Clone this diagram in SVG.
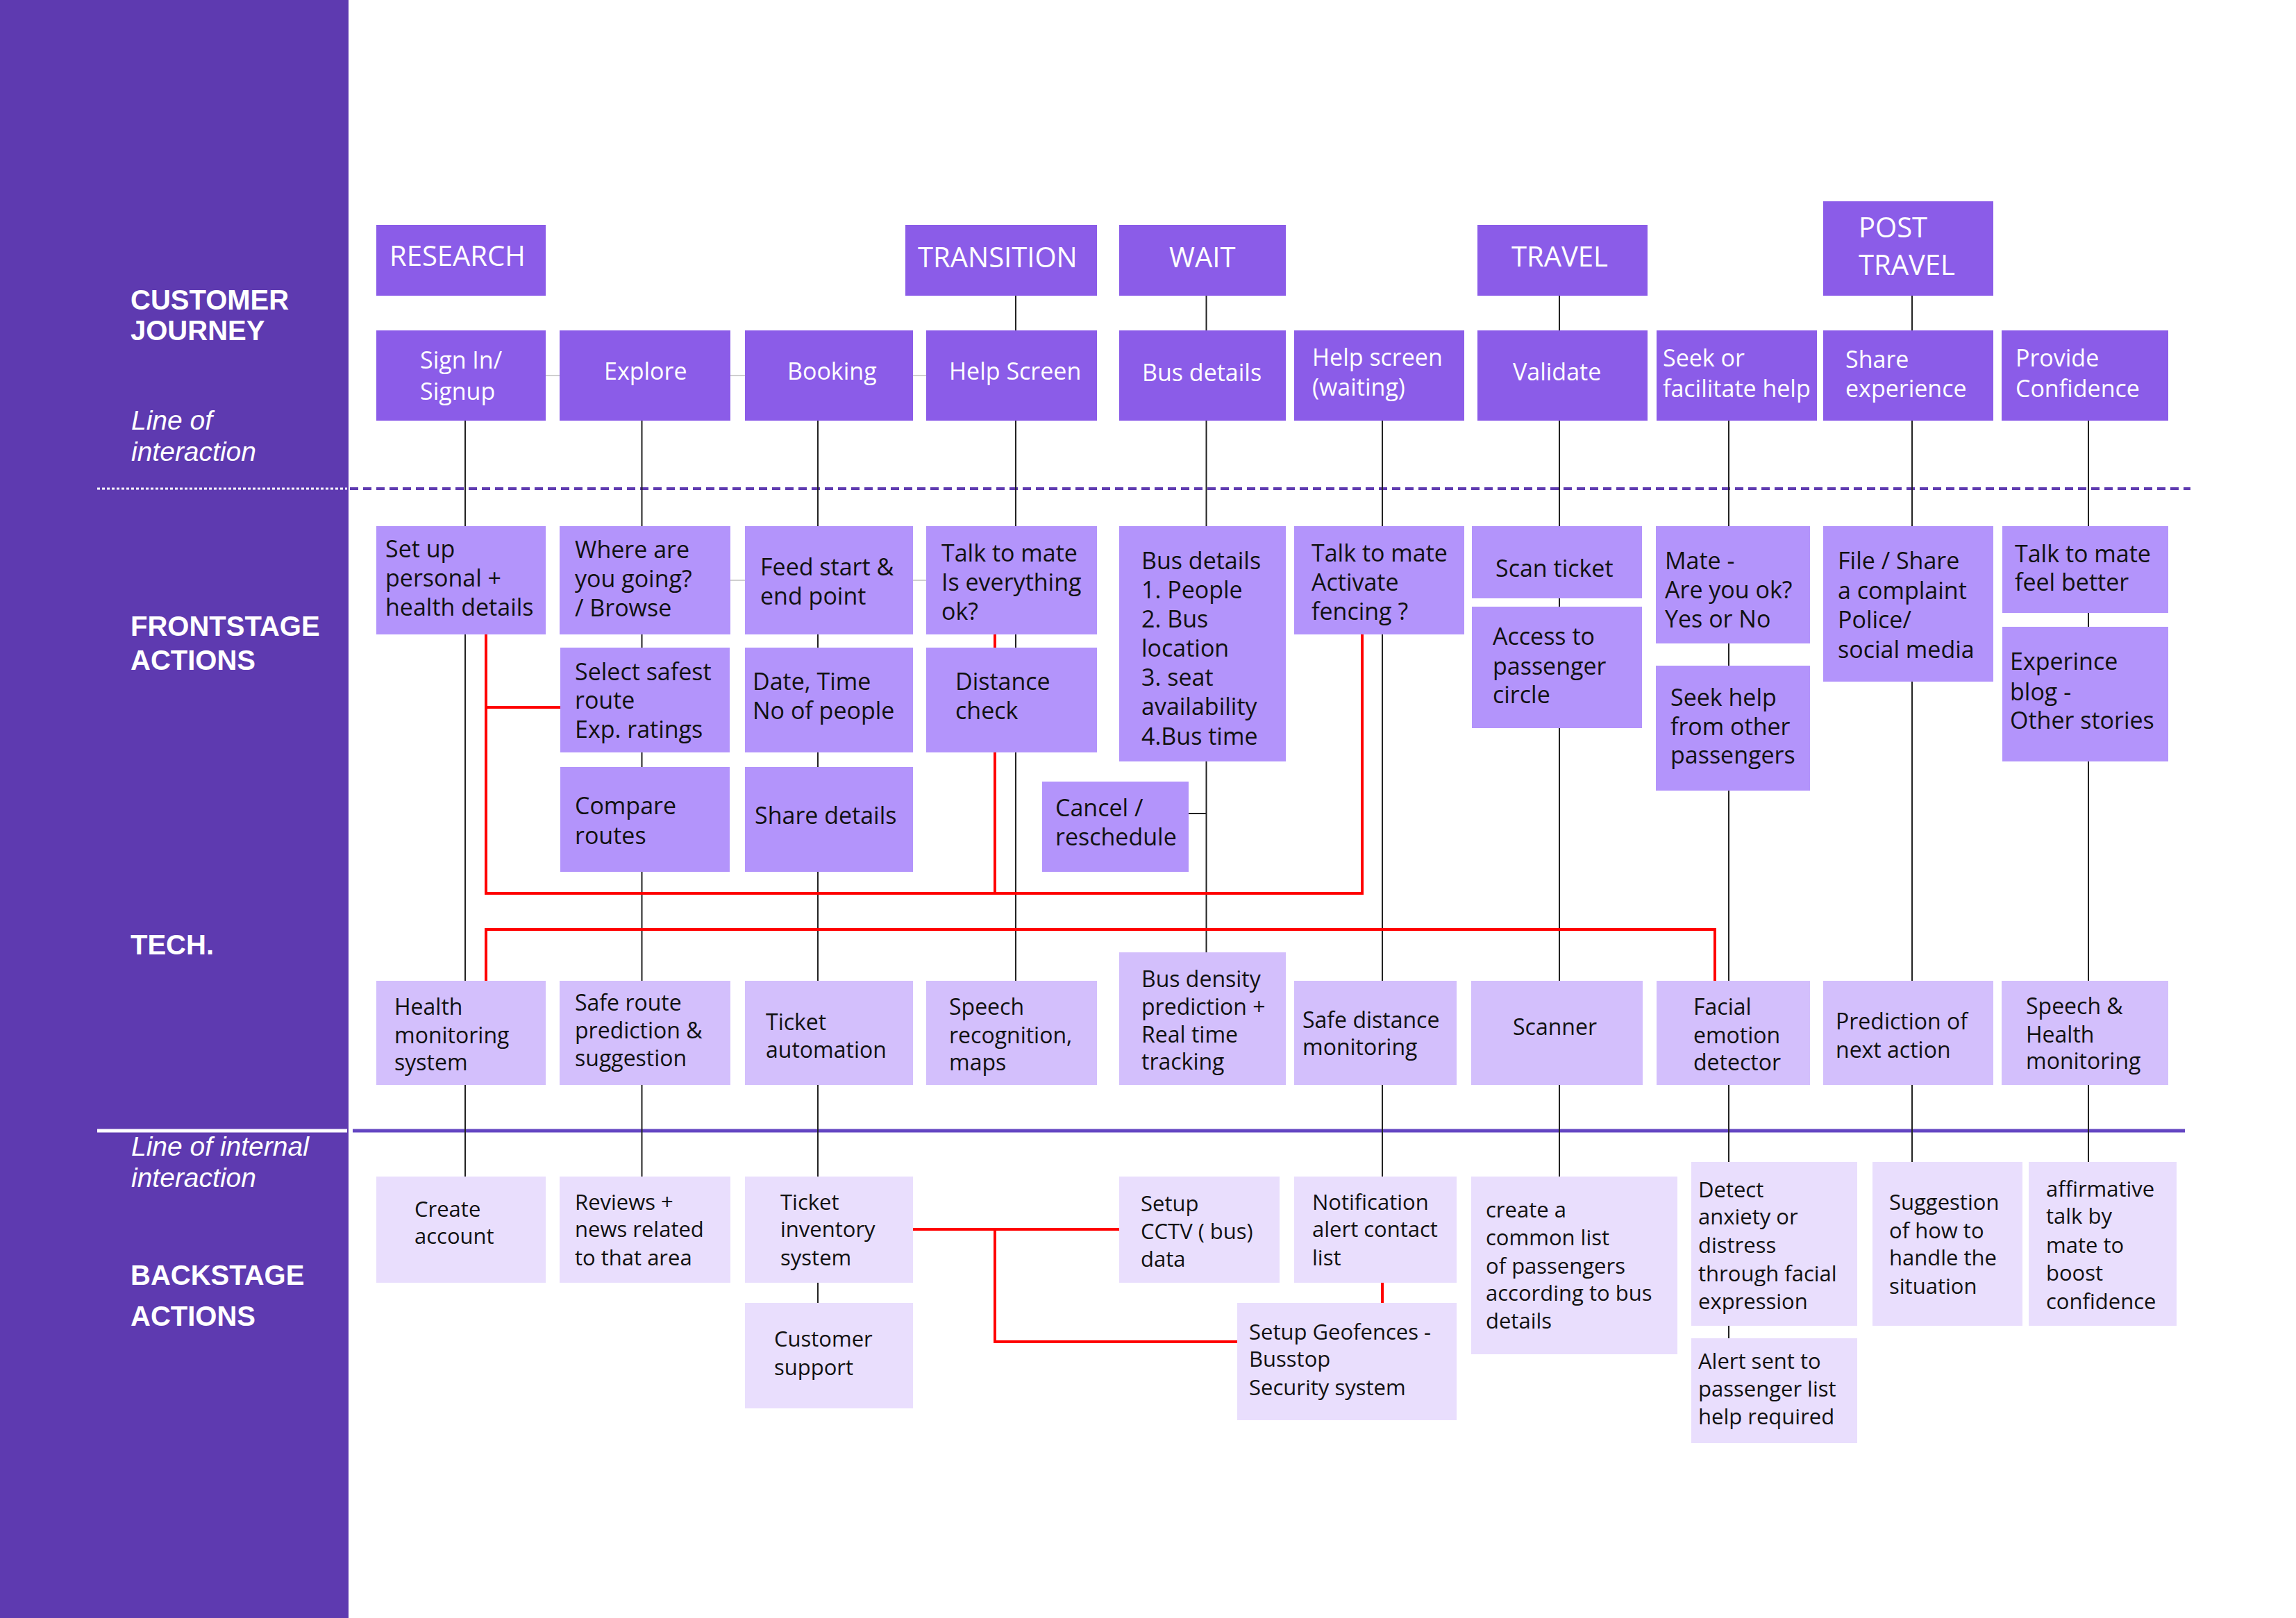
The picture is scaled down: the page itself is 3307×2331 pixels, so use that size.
<svg xmlns="http://www.w3.org/2000/svg" width="3307" height="2331" viewBox="0 0 3307 2331">
<style>
.side{fill:#5E3AB0}
.ph,.js{fill:#8B5CE8}
.fs{fill:#B394FB}
.te{fill:#D3BFFC}
.bs{fill:#E9DEFD}
text{font-family:"Open Sans","Liberation Sans",sans-serif}
.th{fill:#fff;font-size:40px}
.tw{fill:#fff;font-size:34px}
.tb{fill:#111;font-size:34px}
.tt{fill:#111;font-size:32px}
.tk{fill:#111;font-size:31px}
.lab{fill:#fff;font-family:"Liberation Sans",Arial,sans-serif;font-weight:bold;font-size:40px}
.it{fill:#fff;font-family:"Liberation Sans",Arial,sans-serif;font-style:italic;font-size:39px}
.blk{stroke:#222;stroke-width:2;fill:none}
.gry{stroke:#cfcfcf;stroke-width:2;fill:none}
.red{stroke:#FF0000;stroke-width:4;fill:none}
</style>
<rect width="3307" height="2331" fill="#fff"/>
<g id="sidebar">
<rect class="side" x="0" y="0" width="502" height="2331"/>
<text class="lab" x="188" y="446">CUSTOMER</text>
<text class="lab" x="188" y="490">JOURNEY</text>
<text class="it" x="189" y="619">Line of</text>
<text class="it" x="189" y="664">interaction</text>
<text class="lab" x="188" y="916">FRONTSTAGE</text>
<text class="lab" x="188" y="965">ACTIONS</text>
<text class="lab" x="188" y="1375">TECH.</text>
<text class="it" x="189" y="1665">Line of internal</text>
<text class="it" x="189" y="1710">interaction</text>
<text class="lab" x="188" y="1851">BACKSTAGE</text>
<text class="lab" x="188" y="1910">ACTIONS</text>
</g>
<g id="dividers">
<line x1="140" y1="704" x2="500" y2="704" stroke="#fff" stroke-width="3" stroke-dasharray="4 3"/>
<line x1="504" y1="704" x2="3155" y2="704" stroke="#5E3AB0" stroke-width="4" stroke-dasharray="12 7"/>
<line x1="140" y1="1629" x2="500" y2="1629" stroke="#fff" stroke-width="5"/>
<line x1="508" y1="1629" x2="3147" y2="1629" stroke="#6446C2" stroke-width="5"/>
</g>
<g id="connectors">
<line class="gry" x1="786" y1="541" x2="806" y2="541"/>
<line class="gry" x1="1052" y1="541" x2="1073" y2="541"/>
<line class="gry" x1="1315" y1="541" x2="1334" y2="541"/>
<line class="gry" x1="1052" y1="836" x2="1073" y2="836"/>
<line class="gry" x1="1315" y1="836" x2="1334" y2="836"/>
<line class="blk" x1="670" y1="606" x2="670" y2="1695"/>
<line class="blk" x1="924.5" y1="606" x2="924.5" y2="1695"/>
<line class="blk" x1="1178" y1="606" x2="1178" y2="1877"/>
<line class="blk" x1="1463" y1="426" x2="1463" y2="1413"/>
<line class="blk" x1="1737.5" y1="426" x2="1737.5" y2="1372"/>
<line class="blk" x1="1712" y1="1172" x2="1737.5" y2="1172"/>
<line class="blk" x1="1991" y1="606" x2="1991" y2="1695"/>
<line class="blk" x1="2246" y1="426" x2="2246" y2="1695"/>
<line class="blk" x1="2490" y1="606" x2="2490" y2="1928"/>
<line class="blk" x1="2754" y1="426" x2="2754" y2="1674"/>
<line class="blk" x1="3008" y1="606" x2="3008" y2="1674"/>
<polyline class="red" points="700,914 700,1287 1962,1287 1962,908"/>
<line class="red" x1="700" y1="1019" x2="807" y2="1019"/>
<line class="red" x1="1433" y1="914" x2="1433" y2="1287"/>
<polyline class="red" points="700,1413 700,1339 2470,1339 2470,1413"/>
<line class="red" x1="1315" y1="1771" x2="1612" y2="1771"/>
<polyline class="red" points="1433,1771 1433,1933 1782,1933"/>
<line class="red" x1="1991" y1="1848" x2="1991" y2="1877"/>
</g>
<g id="phases">
<g id="n-research"><rect class="ph" x="542" y="324" width="244" height="102"/><text class="th" x="561" y="383">RESEARCH</text></g>
<g id="n-transition"><rect class="ph" x="1304" y="324" width="276" height="102"/><text class="th" x="1322" y="385">TRANSITION</text></g>
<g id="n-wait"><rect class="ph" x="1612" y="324" width="240" height="102"/><text class="th" x="1684" y="385">WAIT</text></g>
<g id="n-travel"><rect class="ph" x="2128" y="324" width="245" height="102"/><text class="th" x="2177" y="384">TRAVEL</text></g>
<g id="n-posttravel"><rect class="ph" x="2626" y="290" width="245" height="136"/><text class="th"><tspan x="2677" y="342">POST</tspan><tspan x="2677" y="396">TRAVEL</tspan></text></g>
</g>
<g id="journey">
<g id="n-signin"><rect class="js" x="542" y="476" width="244" height="130"/><text class="tw"><tspan x="605" y="531">Sign In/</tspan><tspan x="605" y="576">Signup</tspan></text></g>
<g id="n-explore"><rect class="js" x="806" y="476" width="246" height="130"/><text class="tw" x="870" y="547">Explore</text></g>
<g id="n-booking"><rect class="js" x="1073" y="476" width="242" height="130"/><text class="tw" x="1134" y="547">Booking</text></g>
<g id="n-helpscreen"><rect class="js" x="1334" y="476" width="246" height="130"/><text class="tw" x="1367" y="547">Help Screen</text></g>
<g id="n-busdetails"><rect class="js" x="1612" y="476" width="240" height="130"/><text class="tw" x="1645" y="549">Bus details</text></g>
<g id="n-helpwait"><rect class="js" x="1864" y="476" width="245" height="130"/><text class="tw"><tspan x="1890" y="527">Help screen</tspan><tspan x="1890" y="570">(waiting)</tspan></text></g>
<g id="n-validate"><rect class="js" x="2128" y="476" width="245" height="130"/><text class="tw" x="2179" y="548">Validate</text></g>
<g id="n-seek"><rect class="js" x="2386" y="476" width="231" height="130"/><text class="tw"><tspan x="2395" y="528">Seek or</tspan><tspan x="2395" y="572">facilitate help</tspan></text></g>
<g id="n-share"><rect class="js" x="2626" y="476" width="245" height="130"/><text class="tw"><tspan x="2658" y="530">Share</tspan><tspan x="2658" y="572">experience</tspan></text></g>
<g id="n-provide"><rect class="js" x="2883" y="476" width="240" height="130"/><text class="tw"><tspan x="2903" y="528">Provide</tspan><tspan x="2903" y="572">Confidence</tspan></text></g>
</g>
<g id="frontstage">
<g id="n-setup"><rect class="fs" x="542" y="758" width="244" height="156"/><text class="tb"><tspan x="555" y="803">Set up</tspan><tspan x="555" y="845">personal +</tspan><tspan x="555" y="887">health details</tspan></text></g>
<g id="n-where"><rect class="fs" x="806" y="758" width="246" height="156"/><text class="tb"><tspan x="828" y="804">Where are</tspan><tspan x="828" y="846">you going?</tspan><tspan x="828" y="888">/ Browse</tspan></text></g>
<g id="n-feed"><rect class="fs" x="1073" y="758" width="242" height="156"/><text class="tb"><tspan x="1095" y="829">Feed start &amp;</tspan><tspan x="1095" y="871">end point</tspan></text></g>
<g id="n-talk1"><rect class="fs" x="1334" y="758" width="246" height="156"/><text class="tb"><tspan x="1356" y="809">Talk to mate</tspan><tspan x="1356" y="851">Is everything</tspan><tspan x="1356" y="893">ok?</tspan></text></g>
<g id="n-buslist"><rect class="fs" x="1612" y="758" width="240" height="339"/><text class="tb"><tspan x="1644" y="820">Bus details</tspan><tspan x="1644" y="862">1. People</tspan><tspan x="1644" y="904">2. Bus</tspan><tspan x="1644" y="946">location</tspan><tspan x="1644" y="988">3. seat</tspan><tspan x="1644" y="1030">availability</tspan><tspan x="1644" y="1073">4.Bus time</tspan></text></g>
<g id="n-talk2"><rect class="fs" x="1864" y="758" width="245" height="156"/><text class="tb"><tspan x="1889" y="809">Talk to mate</tspan><tspan x="1889" y="851">Activate</tspan><tspan x="1889" y="893">fencing ?</tspan></text></g>
<g id="n-scan"><rect class="fs" x="2120" y="758" width="245" height="104"/><text class="tb" x="2154" y="831">Scan ticket</text></g>
<g id="n-access"><rect class="fs" x="2120" y="874" width="245" height="175"/><text class="tb"><tspan x="2150" y="929">Access to</tspan><tspan x="2150" y="972">passenger</tspan><tspan x="2150" y="1013">circle</tspan></text></g>
<g id="n-mate"><rect class="fs" x="2385" y="758" width="222" height="169"/><text class="tb"><tspan x="2398" y="820">Mate -</tspan><tspan x="2398" y="862">Are you ok?</tspan><tspan x="2398" y="904">Yes or No</tspan></text></g>
<g id="n-seekhelp"><rect class="fs" x="2385" y="959" width="222" height="180"/><text class="tb"><tspan x="2406" y="1017">Seek help</tspan><tspan x="2406" y="1059">from other</tspan><tspan x="2406" y="1100">passengers</tspan></text></g>
<g id="n-file"><rect class="fs" x="2626" y="758" width="245" height="224"/><text class="tb"><tspan x="2647" y="820">File / Share</tspan><tspan x="2647" y="863">a complaint</tspan><tspan x="2647" y="905">Police/</tspan><tspan x="2647" y="948">social media</tspan></text></g>
<g id="n-talk3"><rect class="fs" x="2884" y="758" width="239" height="125"/><text class="tb"><tspan x="2902" y="810">Talk to mate</tspan><tspan x="2902" y="851">feel better</tspan></text></g>
<g id="n-blog"><rect class="fs" x="2884" y="903" width="239" height="194"/><text class="tb"><tspan x="2895" y="965">Experince</tspan><tspan x="2895" y="1009">blog -</tspan><tspan x="2895" y="1050">Other stories</tspan></text></g>
<g id="n-select"><rect class="fs" x="807" y="933" width="244" height="151"/><text class="tb"><tspan x="828" y="980">Select safest</tspan><tspan x="828" y="1021">route</tspan><tspan x="828" y="1063">Exp. ratings</tspan></text></g>
<g id="n-compare"><rect class="fs" x="807" y="1105" width="244" height="151"/><text class="tb"><tspan x="828" y="1173">Compare</tspan><tspan x="828" y="1216">routes</tspan></text></g>
<g id="n-date"><rect class="fs" x="1073" y="933" width="242" height="151"/><text class="tb"><tspan x="1084" y="994">Date, Time</tspan><tspan x="1084" y="1036">No of people</tspan></text></g>
<g id="n-sharedet"><rect class="fs" x="1073" y="1105" width="242" height="151"/><text class="tb" x="1087" y="1187">Share details</text></g>
<g id="n-distance"><rect class="fs" x="1334" y="933" width="246" height="151"/><text class="tb"><tspan x="1376" y="994">Distance</tspan><tspan x="1376" y="1036">check</tspan></text></g>
<g id="n-cancel"><rect class="fs" x="1501" y="1126" width="211" height="130"/><text class="tb"><tspan x="1520" y="1176">Cancel /</tspan><tspan x="1520" y="1218">reschedule</tspan></text></g>
</g>
<g id="tech">
<g id="n-health"><rect class="te" x="542" y="1413" width="244" height="150"/><text class="tt"><tspan x="568" y="1462">Health</tspan><tspan x="568" y="1503">monitoring</tspan><tspan x="568" y="1542">system</tspan></text></g>
<g id="n-saferoute"><rect class="te" x="806" y="1413" width="246" height="150"/><text class="tt"><tspan x="828" y="1456">Safe route</tspan><tspan x="828" y="1496">prediction &amp;</tspan><tspan x="828" y="1536">suggestion</tspan></text></g>
<g id="n-ticketauto"><rect class="te" x="1073" y="1413" width="242" height="150"/><text class="tt"><tspan x="1103" y="1484">Ticket</tspan><tspan x="1103" y="1524">automation</tspan></text></g>
<g id="n-speech"><rect class="te" x="1334" y="1413" width="246" height="150"/><text class="tt"><tspan x="1367" y="1462">Speech</tspan><tspan x="1367" y="1503">recognition,</tspan><tspan x="1367" y="1542">maps</tspan></text></g>
<g id="n-busdensity"><rect class="te" x="1612" y="1372" width="240" height="191"/><text class="tt"><tspan x="1644" y="1422">Bus density</tspan><tspan x="1644" y="1462">prediction +</tspan><tspan x="1644" y="1502">Real time</tspan><tspan x="1644" y="1541">tracking</tspan></text></g>
<g id="n-safedist"><rect class="te" x="1864" y="1413" width="234" height="150"/><text class="tt"><tspan x="1876" y="1481">Safe distance</tspan><tspan x="1876" y="1520">monitoring</tspan></text></g>
<g id="n-scanner"><rect class="te" x="2119" y="1413" width="247" height="150"/><text class="tt" x="2179" y="1491">Scanner</text></g>
<g id="n-facial"><rect class="te" x="2386" y="1413" width="221" height="150"/><text class="tt"><tspan x="2439" y="1462">Facial</tspan><tspan x="2439" y="1503">emotion</tspan><tspan x="2439" y="1542">detector</tspan></text></g>
<g id="n-prediction"><rect class="te" x="2626" y="1413" width="245" height="150"/><text class="tt"><tspan x="2644" y="1483">Prediction of</tspan><tspan x="2644" y="1524">next action</tspan></text></g>
<g id="n-speechhealth"><rect class="te" x="2883" y="1413" width="240" height="150"/><text class="tt"><tspan x="2918" y="1461">Speech &amp;</tspan><tspan x="2918" y="1502">Health</tspan><tspan x="2918" y="1540">monitoring</tspan></text></g>
</g>
<g id="backstage">
<g id="n-create"><rect class="bs" x="542" y="1695" width="244" height="153"/><text class="tk"><tspan x="597" y="1753">Create</tspan><tspan x="597" y="1792">account</tspan></text></g>
<g id="n-reviews"><rect class="bs" x="806" y="1695" width="246" height="153"/><text class="tk"><tspan x="828" y="1743">Reviews +</tspan><tspan x="828" y="1782">news related</tspan><tspan x="828" y="1823">to that area</tspan></text></g>
<g id="n-inventory"><rect class="bs" x="1073" y="1695" width="242" height="153"/><text class="tk"><tspan x="1124" y="1743">Ticket</tspan><tspan x="1124" y="1782">inventory</tspan><tspan x="1124" y="1823">system</tspan></text></g>
<g id="n-support"><rect class="bs" x="1073" y="1877" width="242" height="152"/><text class="tk"><tspan x="1115" y="1940">Customer</tspan><tspan x="1115" y="1981">support</tspan></text></g>
<g id="n-cctv"><rect class="bs" x="1612" y="1695" width="231" height="153"/><text class="tk"><tspan x="1643" y="1745">Setup</tspan><tspan x="1643" y="1785">CCTV ( bus)</tspan><tspan x="1643" y="1825">data</tspan></text></g>
<g id="n-notif"><rect class="bs" x="1864" y="1695" width="234" height="153"/><text class="tk"><tspan x="1890" y="1743">Notification</tspan><tspan x="1890" y="1782">alert contact</tspan><tspan x="1890" y="1823">list</tspan></text></g>
<g id="n-geofence"><rect class="bs" x="1782" y="1877" width="316" height="169"/><text class="tk"><tspan x="1799" y="1930">Setup Geofences -</tspan><tspan x="1799" y="1969">Busstop</tspan><tspan x="1799" y="2010">Security system</tspan></text></g>
<g id="n-commonlist"><rect class="bs" x="2119" y="1695" width="297" height="256"/><text class="tk"><tspan x="2140" y="1754">create a</tspan><tspan x="2140" y="1794">common list</tspan><tspan x="2140" y="1835">of passengers</tspan><tspan x="2140" y="1874">according to bus</tspan><tspan x="2140" y="1914">details</tspan></text></g>
<g id="n-detect"><rect class="bs" x="2436" y="1674" width="239" height="236"/><text class="tk"><tspan x="2446" y="1725">Detect</tspan><tspan x="2446" y="1764">anxiety or</tspan><tspan x="2446" y="1805">distress</tspan><tspan x="2446" y="1846">through facial</tspan><tspan x="2446" y="1886">expression</tspan></text></g>
<g id="n-alert"><rect class="bs" x="2436" y="1928" width="239" height="151"/><text class="tk"><tspan x="2446" y="1972">Alert sent to</tspan><tspan x="2446" y="2012">passenger list</tspan><tspan x="2446" y="2052">help required</tspan></text></g>
<g id="n-suggestion"><rect class="bs" x="2697" y="1674" width="216" height="236"/><text class="tk"><tspan x="2721" y="1743">Suggestion</tspan><tspan x="2721" y="1784">of how to</tspan><tspan x="2721" y="1823">handle the</tspan><tspan x="2721" y="1864">situation</tspan></text></g>
<g id="n-affirm"><rect class="bs" x="2922" y="1674" width="213" height="236"/><text class="tk"><tspan x="2947" y="1724">affirmative</tspan><tspan x="2947" y="1763">talk by</tspan><tspan x="2947" y="1805">mate to</tspan><tspan x="2947" y="1845">boost</tspan><tspan x="2947" y="1886">confidence</tspan></text></g>
</g>
</svg>
